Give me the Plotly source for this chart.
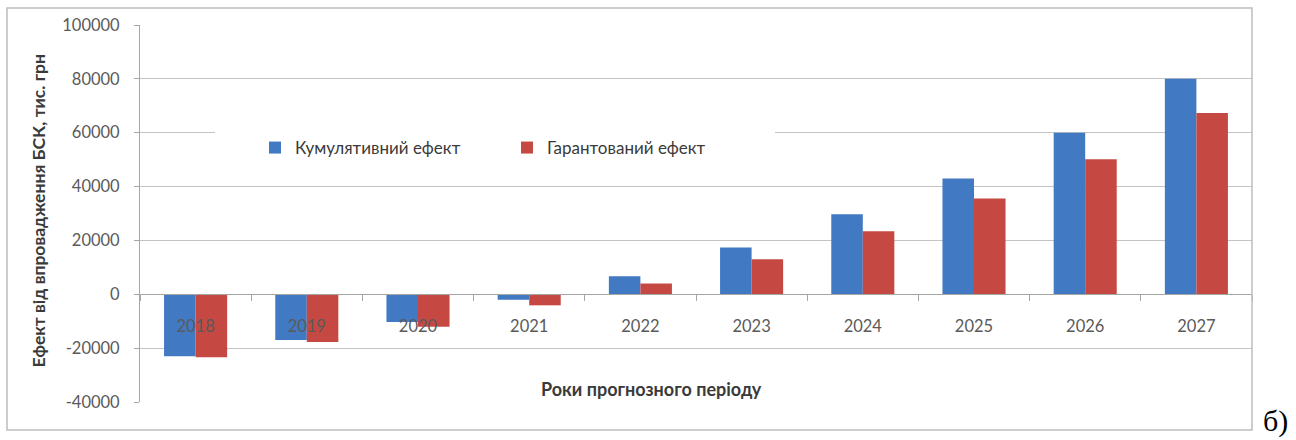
import plotly.graph_objects as go

# Forecast years and effect of BSK implementation, thousand UAH
years = ["2018", "2019", "2020", "2021", "2022", "2023", "2024", "2025", "2026", "2027"]
cumulative = [-23000, -17000, -10300, -2000, 6700, 17400, 29700, 43000, 60000, 80000]
guaranteed = [-23400, -17700, -12100, -4100, 4000, 13000, 23400, 35600, 50100, 67300]

y_ticks = [-40000, -20000, 0, 20000, 40000, 60000, 80000, 100000]
y_tick_labels = ["-40000", "-20000", "0", "20000", "40000", "60000", "80000", "100000"]

series_names = ["Кумулятивний ефект", "Гарантований ефект"]
series_colors = ["#4179C2", "#C64842"]

W, H = 1296, 440
L, R, T, B = 140, 44, 25, 38
PW, PH = W - L - R, H - T - B


def px_x(px):
    return (px - L) / PW


def px_y(py):
    return (H - B - py) / PH


FONT = "Lato"
TICK_COLOR = "#5a5a5a"
TITLE_COLOR = "#3a3a3a"
GRID = "#c4c4c4"

fig = go.Figure()
for name, vals, col in zip(series_names, [cumulative, guaranteed], series_colors):
    fig.add_trace(go.Bar(x=years, y=vals, name=name, marker=dict(color=col, line=dict(width=0))))

fig.update_layout(
    width=W,
    height=H,
    margin=dict(l=L, r=R, t=T, b=B),
    paper_bgcolor="white",
    plot_bgcolor="white",
    barmode="group",
    bargap=0.433,
    bargroupgap=0,
    font=dict(family=FONT, size=16, color=TICK_COLOR),
    showlegend=True,
    legend=dict(
        orientation="h",
        x=px_x(255),
        y=px_y(148),
        xanchor="left",
        yanchor="middle",
        bgcolor="rgba(0,0,0,0)",
        font=dict(family=FONT, size=17, color=TITLE_COLOR),
        entrywidth=207,
        entrywidthmode="pixels",
    ),
    xaxis=dict(
        type="category",
        anchor="free",
        position=2 / 7,
        showline=True,
        linecolor="#a6a6a6",
        linewidth=1,
        ticks="outside",
        tickson="boundaries",
        ticklen=6,
        tickcolor="#a6a6a6",
        showgrid=False,
        tickfont=dict(family=FONT, size=16.5, color=TICK_COLOR),
        ticklabelstandoff=17,
    ),
    yaxis=dict(
        range=[-40000, 100000],
        tickvals=y_ticks,
        ticktext=y_tick_labels,
        showline=True,
        linecolor="#a6a6a6",
        linewidth=1,
        ticks="outside",
        ticklen=5,
        tickcolor="#a6a6a6",
        showgrid=True,
        gridcolor=GRID,
        gridwidth=1,
        zeroline=False,
        tickfont=dict(family=FONT, size=16.5, color=TICK_COLOR),
        ticklabelstandoff=11,
    ),
    shapes=[
        # chart frame
        dict(type="rect", xref="paper", yref="paper",
             x0=px_x(7), x1=px_x(1252), y0=px_y(430), y1=px_y(8),
             line=dict(color="#bdbdbd", width=1.5), fillcolor="rgba(0,0,0,0)", layer="above"),
        # legend background
        dict(type="rect", xref="paper", yref="paper",
             x0=px_x(215), x1=px_x(775), y0=px_y(170), y1=px_y(110),
             line=dict(width=0), fillcolor="white", layer="above"),
    ],
    annotations=[
        dict(text="<b>Ефект від впровадження БСК, тис. грн</b>", xref="paper", yref="paper",
             x=px_x(38), y=px_y(211.5), xanchor="center", yanchor="middle", textangle=-90,
             showarrow=False, font=dict(family=FONT, size=17.5, color=TITLE_COLOR)),
        dict(text="<b>Роки прогнозного періоду</b>", xref="paper", yref="paper",
             x=px_x(651), y=px_y(389), xanchor="center", yanchor="middle",
             showarrow=False, font=dict(family=FONT, size=18, color=TITLE_COLOR)),
        dict(text="б)", xref="paper", yref="paper",
             x=px_x(1261), y=px_y(421), xanchor="left", yanchor="middle",
             showarrow=False, font=dict(family="Liberation Serif", size=30, color="black")),
    ],
)

fig.write_html("out.html")
